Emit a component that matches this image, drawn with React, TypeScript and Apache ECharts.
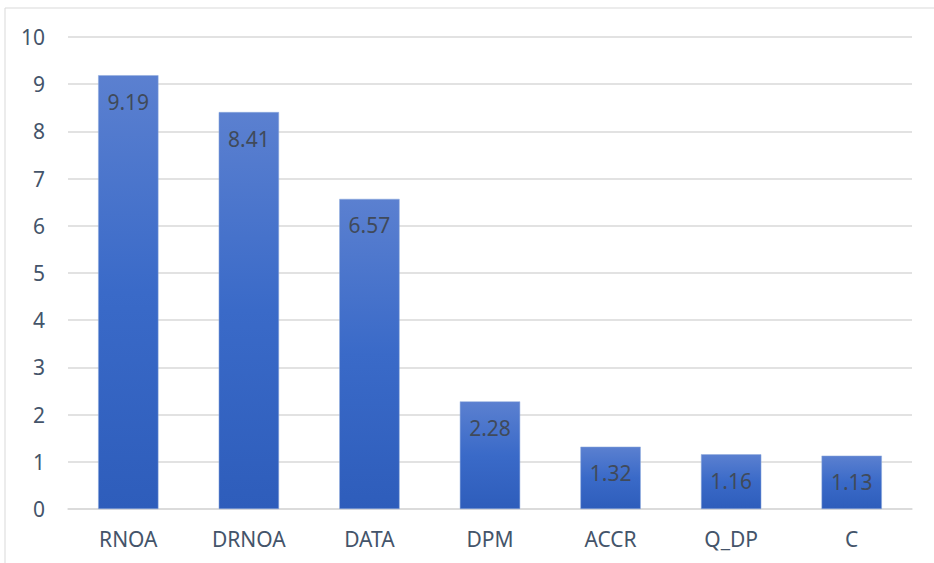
import React, { useEffect, useRef } from "react";
import * as echarts from "echarts";

const categories = ["RNOA", "DRNOA", "DATA", "DPM", "ACCR", "Q_DP", "C"];
const values = [9.19, 8.41, 6.57, 2.28, 1.32, 1.16, 1.13];
const yTicks = { min: 0, max: 10, interval: 1 };

const FONT = "Noto Sans";

export default function App() {
  const ref = useRef<HTMLDivElement>(null);
  useEffect(() => {
    document.body.style.margin = "0";
    const chart = echarts.init(ref.current!, null, { renderer: "svg" });
    chart.setOption({
      animation: false,
      backgroundColor: "#ffffff",
      graphic: [
        {
          type: "rect",
          shape: { x: 5, y: 8, width: 960, height: 600 },
          style: { fill: "none", stroke: "#d9d9d9", lineWidth: 1 },
          silent: true,
          z: -1,
        },
      ],
      grid: { left: 68, right: 22, top: 37, bottom: 54 },
      xAxis: {
        type: "category",
        data: categories,
        axisLine: { show: true, lineStyle: { color: "#d9d9d9", width: 1.5 } },
        axisTick: { show: false },
        axisLabel: {
          color: "#44546a",
          fontFamily: FONT,
          fontSize: 21,
          margin: 19,
        },
      },
      yAxis: {
        type: "value",
        min: yTicks.min,
        max: yTicks.max,
        interval: yTicks.interval,
        axisLine: { show: false },
        axisTick: { show: false },
        splitLine: { lineStyle: { color: "#d9d9d9", width: 1.5 } },
        axisLabel: {
          color: "#44546a",
          fontFamily: FONT,
          fontSize: 21,
          margin: 23,
        },
      },
      series: [
        {
          type: "bar",
          data: values,
          barWidth: "50%",
          itemStyle: {
            color: new echarts.graphic.LinearGradient(0, 0, 0, 1, [
              { offset: 0, color: "#5b80d0" },
              { offset: 0.5, color: "#3a6ac8" },
              { offset: 1, color: "#2e5dbb" },
            ]),
            borderColor: "#8eaadc",
            borderWidth: 0.5,
          },
          label: {
            show: true,
            position: "insideTop",
            distance: 16,
            color: "#404a5a",
            fontFamily: FONT,
            fontSize: 21,
            formatter: (p: any) => p.value.toFixed(2),
          },
        },
      ],
    });
    return () => chart.dispose();
  }, []);
  return <div ref={ref} style={{ width: 934, height: 563 }} />;
}
